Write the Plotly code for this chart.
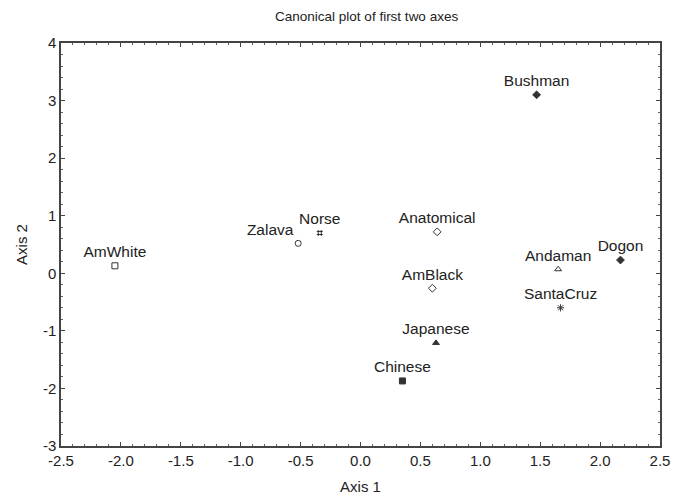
import plotly.graph_objects as go

names = ["AmWhite", "Zalava", "Norse", "Anatomical", "AmBlack", "Japanese",
         "Chinese", "Bushman", "Andaman", "Dogon", "SantaCruz"]
axis1 = [-2.05, -0.52, -0.34, 0.64, 0.60, 0.63, 0.35, 1.47, 1.65, 2.17, 1.67]
axis2 = [0.13, 0.52, 0.70, 0.72, -0.26, -1.21, -1.87, 3.10, 0.07, 0.23, -0.60]
symbols = ["square-open", "circle-open", "hash-open", "diamond-open", "diamond-open",
           "triangle-up", "square", "diamond", "triangle-up-open", "diamond", "asterisk-open"]
textpos = ["top center", "top left", "top center", "top center", "top center", "top center",
           "top center", "top center", "top center", "top center", "top center"]

x_tickvals = [-2.5, -2.0, -1.5, -1.0, -0.5, 0.0, 0.5, 1.0, 1.5, 2.0, 2.5]
x_ticktext = ["-2.5", "-2.0", "-1.5", "-1.0", "-0.5", "0.0", "0.5", "1.0", "1.5", "2.0", "2.5"]
y_tickvals = [-3, -2, -1, 0, 1, 2, 3, 4]
y_ticktext = ["-3", "-2", "-1", "0", "1", "2", "3", "4"]

FONT = "Liberation Sans, Arial"

fig = go.Figure()
fig.add_trace(go.Scatter(
    x=axis1, y=axis2, mode="markers+text", text=names,
    textposition=textpos,
    textfont=dict(family=FONT, size=15.5, color="#222"),
    marker=dict(symbol=symbols, size=6, color="#333",
                line=dict(color="#333", width=1)),
    showlegend=False, cliponaxis=False,
))

axis_common = dict(
    showgrid=False, zeroline=False, showline=True, linecolor="#444", linewidth=1.5,
    mirror="ticks", ticks="inside", ticklen=4, tickcolor="#444",
    tickfont=dict(family=FONT, size=15, color="#222"),
)
fig.update_xaxes(range=[-2.5, 2.5], tickvals=x_tickvals, ticktext=x_ticktext,
                 minor=dict(dtick=0.1, ticks="inside", ticklen=2, tickcolor="#666"),
                 title=dict(text="Axis 1", font=dict(family=FONT, size=15, color="#222"),
                            standoff=14),
                 **axis_common)
fig.update_yaxes(range=[-3, 4], tickvals=y_tickvals, ticktext=y_ticktext,
                 minor=dict(dtick=0.2, ticks="inside", ticklen=2, tickcolor="#666"),
                 title=dict(text="Axis 2", font=dict(family=FONT, size=15, color="#222"),
                            standoff=12),
                 **axis_common)
fig.update_layout(
    width=687, height=499,
    margin=dict(l=49, r=35, t=35, b=61),
    paper_bgcolor="white", plot_bgcolor="white",
    title=dict(text="Canonical plot of first two axes", x=0.522, xanchor="center",
               y=0.984, yanchor="middle",
               font=dict(family=FONT, size=13.5, color="#222")),
)
fig.write_html("out.html")
